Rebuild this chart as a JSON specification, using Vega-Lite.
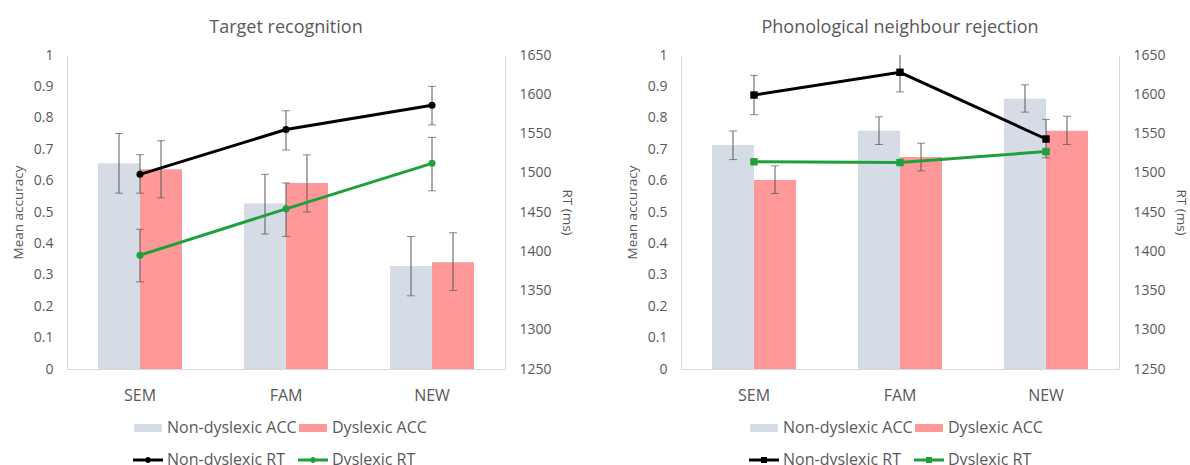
{
  "$schema": "https://vega.github.io/schema/vega-lite/v6.json",
  "padding": {"left": 11, "top": 19, "right": 0, "bottom": 0},
  "background": "white",
  "spacing": 51,
  "datasets": {
    "acc": [
      {"task": "Target recognition", "cond": "SEM", "series": "Non-dyslexic ACC", "acc": 0.655, "lo": 0.56, "hi": 0.75},
      {"task": "Target recognition", "cond": "SEM", "series": "Dyslexic ACC", "acc": 0.636, "lo": 0.545, "hi": 0.727},
      {"task": "Target recognition", "cond": "FAM", "series": "Non-dyslexic ACC", "acc": 0.527, "lo": 0.43, "hi": 0.62},
      {"task": "Target recognition", "cond": "FAM", "series": "Dyslexic ACC", "acc": 0.592, "lo": 0.5, "hi": 0.682},
      {"task": "Target recognition", "cond": "NEW", "series": "Non-dyslexic ACC", "acc": 0.328, "lo": 0.233, "hi": 0.422},
      {"task": "Target recognition", "cond": "NEW", "series": "Dyslexic ACC", "acc": 0.34, "lo": 0.25, "hi": 0.434},
      {"task": "Phonological neighbour rejection", "cond": "SEM", "series": "Non-dyslexic ACC", "acc": 0.713, "lo": 0.667, "hi": 0.758},
      {"task": "Phonological neighbour rejection", "cond": "SEM", "series": "Dyslexic ACC", "acc": 0.602, "lo": 0.559, "hi": 0.647},
      {"task": "Phonological neighbour rejection", "cond": "FAM", "series": "Non-dyslexic ACC", "acc": 0.759, "lo": 0.715, "hi": 0.803},
      {"task": "Phonological neighbour rejection", "cond": "FAM", "series": "Dyslexic ACC", "acc": 0.675, "lo": 0.631, "hi": 0.719},
      {"task": "Phonological neighbour rejection", "cond": "NEW", "series": "Non-dyslexic ACC", "acc": 0.861, "lo": 0.818, "hi": 0.905},
      {"task": "Phonological neighbour rejection", "cond": "NEW", "series": "Dyslexic ACC", "acc": 0.759, "lo": 0.715, "hi": 0.805}
    ],
    "rt": [
      {"task": "Target recognition", "cond": "SEM", "series": "Non-dyslexic RT", "rt": 1498, "lo": 1474, "hi": 1523},
      {"task": "Target recognition", "cond": "FAM", "series": "Non-dyslexic RT", "rt": 1555, "lo": 1529, "hi": 1579},
      {"task": "Target recognition", "cond": "NEW", "series": "Non-dyslexic RT", "rt": 1586, "lo": 1561, "hi": 1610},
      {"task": "Target recognition", "cond": "SEM", "series": "Dyslexic RT", "rt": 1395, "lo": 1361, "hi": 1428},
      {"task": "Target recognition", "cond": "FAM", "series": "Dyslexic RT", "rt": 1454, "lo": 1419, "hi": 1487},
      {"task": "Target recognition", "cond": "NEW", "series": "Dyslexic RT", "rt": 1512, "lo": 1477, "hi": 1545},
      {"task": "Phonological neighbour rejection", "cond": "SEM", "series": "Non-dyslexic RT", "rt": 1599, "lo": 1574, "hi": 1624},
      {"task": "Phonological neighbour rejection", "cond": "FAM", "series": "Non-dyslexic RT", "rt": 1628, "lo": 1603, "hi": 1653},
      {"task": "Phonological neighbour rejection", "cond": "NEW", "series": "Non-dyslexic RT", "rt": 1543, "lo": 1519, "hi": 1568},
      {"task": "Phonological neighbour rejection", "cond": "SEM", "series": "Dyslexic RT", "rt": 1514},
      {"task": "Phonological neighbour rejection", "cond": "FAM", "series": "Dyslexic RT", "rt": 1513},
      {"task": "Phonological neighbour rejection", "cond": "NEW", "series": "Dyslexic RT", "rt": 1527}
    ]
  },
  "hconcat": [
    {
      "width": 438,
      "height": 314,
      "title": {"text": "Target recognition", "frame": "group", "anchor": "middle"},
      "encoding": {
        "x": {"field": "cond", "type": "nominal", "sort": ["SEM", "FAM", "NEW"], "title": null,
              "scale": {"paddingInner": 0, "paddingOuter": 0}}
      },
      "layer": [
        {
          "data": {"name": "acc"},
          "transform": [{"filter": "datum.task === 'Target recognition'"}],
          "encoding": {
            "xOffset": {"field": "series", "type": "nominal", "scale": {"domain": ["Non-dyslexic ACC", "Dyslexic ACC"], "paddingInner": 0, "paddingOuter": 0.738}}
          },
          "layer": [
            {
              "mark": {"type": "bar"},
              "encoding": {
                "y": {"field": "acc", "type": "quantitative", "title": "Mean accuracy",
                      "scale": {"domain": [0, 1], "nice": false},
                      "axis": {"orient": "left", "values": [0, 0.1, 0.2, 0.3, 0.4, 0.5, 0.6, 0.7, 0.8, 0.9, 1], "tickCount": 20, "format": ".1~f"}},
                "fill": {"field": "series", "type": "nominal", "title": null,
                         "scale": {"domain": ["Non-dyslexic ACC", "Non-dyslexic RT", "Dyslexic ACC", "Dyslexic RT"], "range": ["#d6dce5", "#000000", "#ff9999", "#1fa03c"]},
                         "legend": {"orient": "none", "legendX": 66, "legendY": 358, "columns": 2, "symbolSize": 900, "symbolStrokeWidth": 0, "labelFontSize": 16, "labelColor": "#595959", "labelOffset": 4, "rowPadding": 9, "columnPadding": 1}}
              }
            },
            {
              "mark": {"type": "rule", "color": "#595959", "strokeWidth": 1},
              "encoding": {
                "y": {"field": "lo", "type": "quantitative", "title": "Mean accuracy",
                      "axis": {"orient": "left", "values": [0, 0.1, 0.2, 0.3, 0.4, 0.5, 0.6, 0.7, 0.8, 0.9, 1], "tickCount": 20, "format": ".1~f"}},
                "y2": {"field": "hi"}
              }
            },
            {
              "mark": {"type": "tick", "color": "#595959", "thickness": 1, "size": 8},
              "encoding": {"y": {"field": "lo", "type": "quantitative", "title": "Mean accuracy",
                      "axis": {"orient": "left", "values": [0, 0.1, 0.2, 0.3, 0.4, 0.5, 0.6, 0.7, 0.8, 0.9, 1], "tickCount": 20, "format": ".1~f"}}}
            },
            {
              "mark": {"type": "tick", "color": "#595959", "thickness": 1, "size": 8},
              "encoding": {"y": {"field": "hi", "type": "quantitative", "title": "Mean accuracy",
                      "axis": {"orient": "left", "values": [0, 0.1, 0.2, 0.3, 0.4, 0.5, 0.6, 0.7, 0.8, 0.9, 1], "tickCount": 20, "format": ".1~f"}}}
            }
          ]
        },
        {
          "data": {"name": "rt"},
          "transform": [{"filter": "datum.task === 'Target recognition'"}],
          "layer": [
            {
              "mark": {"type": "line", "strokeWidth": 3},
              "encoding": {
                "y": {"field": "rt", "type": "quantitative", "title": "RT (ms)",
                      "scale": {"domain": [1250, 1650], "nice": false, "zero": false},
                      "axis": {"orient": "right", "values": [1250, 1300, 1350, 1400, 1450, 1500, 1550, 1600, 1650], "tickCount": 20, "format": "d"}},
                "stroke": {"field": "series", "type": "nominal", "legend": null,
                           "scale": {"domain": ["Non-dyslexic ACC", "Non-dyslexic RT", "Dyslexic ACC", "Dyslexic RT"], "range": ["#d6dce5", "#000000", "#ff9999", "#1fa03c"]}}
              }
            },
            {
              "mark": {"type": "rule", "color": "#595959", "strokeWidth": 1},
              "encoding": {
                "y": {"field": "lo", "type": "quantitative", "title": "RT (ms)",
                      "axis": {"orient": "right", "values": [1250, 1300, 1350, 1400, 1450, 1500, 1550, 1600, 1650], "tickCount": 20, "format": "d"}},
                "y2": {"field": "hi"}
              }
            },
            {
              "mark": {"type": "tick", "color": "#595959", "thickness": 1, "size": 8},
              "encoding": {"y": {"field": "lo", "type": "quantitative", "title": "RT (ms)",
                      "axis": {"orient": "right", "values": [1250, 1300, 1350, 1400, 1450, 1500, 1550, 1600, 1650], "tickCount": 20, "format": "d"}}}
            },
            {
              "mark": {"type": "tick", "color": "#595959", "thickness": 1, "size": 8},
              "encoding": {"y": {"field": "hi", "type": "quantitative", "title": "RT (ms)",
                      "axis": {"orient": "right", "values": [1250, 1300, 1350, 1400, 1450, 1500, 1550, 1600, 1650], "tickCount": 20, "format": "d"}}}
            },
            {
              "mark": {"type": "point", "filled": true, "shape": "circle", "size": 50, "opacity": 1},
              "encoding": {
                "y": {"field": "rt", "type": "quantitative", "title": "RT (ms)",
                      "axis": {"orient": "right", "values": [1250, 1300, 1350, 1400, 1450, 1500, 1550, 1600, 1650], "tickCount": 20, "format": "d"}},
                "fill": {"field": "series", "type": "nominal", "title": null}
              }
            },
            {
              "transform": [{"filter": "false"}],
              "mark": {"type": "point", "filled": true, "opacity": 1},
              "encoding": {
                "fill": {"field": "series", "type": "nominal", "title": null},
                "shape": {"field": "series", "type": "nominal", "title": null,
                          "scale": {"domain": ["Non-dyslexic ACC", "Non-dyslexic RT", "Dyslexic ACC", "Dyslexic RT"],
                                    "range": ["M-0.93,-0.27H0.93V0.27H-0.93Z",
                                              "M-1,-0.1H1V0.1H-1Z M0.2,0A0.2,0.2,0,1,1,-0.2,0A0.2,0.2,0,1,1,0.2,0Z",
                                              "M-0.93,-0.27H0.93V0.27H-0.93Z",
                                              "M-1,-0.1H1V0.1H-1Z M0.2,0A0.2,0.2,0,1,1,-0.2,0A0.2,0.2,0,1,1,0.2,0Z"]},
                          "legend": {"orient": "none", "legendX": 66, "legendY": 358, "columns": 2, "symbolSize": 900, "symbolStrokeWidth": 0, "labelFontSize": 16, "labelColor": "#595959", "labelOffset": 4, "rowPadding": 9, "columnPadding": 1}}
              }
            }
          ]
        }
      ],
      "resolve": {"scale": {"y": "independent"}}
    },
    {
      "width": 438,
      "height": 314,
      "title": {"text": "Phonological neighbour rejection", "frame": "group", "anchor": "middle"},
      "encoding": {
        "x": {"field": "cond", "type": "nominal", "sort": ["SEM", "FAM", "NEW"], "title": null,
              "scale": {"paddingInner": 0, "paddingOuter": 0}}
      },
      "layer": [
        {
          "data": {"name": "acc"},
          "transform": [{"filter": "datum.task === 'Phonological neighbour rejection'"}],
          "encoding": {
            "xOffset": {"field": "series", "type": "nominal", "scale": {"domain": ["Non-dyslexic ACC", "Dyslexic ACC"], "paddingInner": 0, "paddingOuter": 0.738}}
          },
          "layer": [
            {
              "mark": {"type": "bar"},
              "encoding": {
                "y": {"field": "acc", "type": "quantitative", "title": "Mean accuracy",
                      "scale": {"domain": [0, 1], "nice": false},
                      "axis": {"orient": "left", "values": [0, 0.1, 0.2, 0.3, 0.4, 0.5, 0.6, 0.7, 0.8, 0.9, 1], "tickCount": 20, "format": ".1~f"}},
                "fill": {"field": "series", "type": "nominal", "title": null,
                         "scale": {"domain": ["Non-dyslexic ACC", "Non-dyslexic RT", "Dyslexic ACC", "Dyslexic RT"], "range": ["#d6dce5", "#000000", "#ff9999", "#1fa03c"]},
                         "legend": {"orient": "none", "legendX": 68, "legendY": 358, "columns": 2, "symbolSize": 900, "symbolStrokeWidth": 0, "labelFontSize": 16, "labelColor": "#595959", "labelOffset": 4, "rowPadding": 9, "columnPadding": 1}}
              }
            },
            {
              "mark": {"type": "rule", "color": "#595959", "strokeWidth": 1},
              "encoding": {
                "y": {"field": "lo", "type": "quantitative", "title": "Mean accuracy",
                      "axis": {"orient": "left", "values": [0, 0.1, 0.2, 0.3, 0.4, 0.5, 0.6, 0.7, 0.8, 0.9, 1], "tickCount": 20, "format": ".1~f"}},
                "y2": {"field": "hi"}
              }
            },
            {
              "mark": {"type": "tick", "color": "#595959", "thickness": 1, "size": 8},
              "encoding": {"y": {"field": "lo", "type": "quantitative", "title": "Mean accuracy",
                      "axis": {"orient": "left", "values": [0, 0.1, 0.2, 0.3, 0.4, 0.5, 0.6, 0.7, 0.8, 0.9, 1], "tickCount": 20, "format": ".1~f"}}}
            },
            {
              "mark": {"type": "tick", "color": "#595959", "thickness": 1, "size": 8},
              "encoding": {"y": {"field": "hi", "type": "quantitative", "title": "Mean accuracy",
                      "axis": {"orient": "left", "values": [0, 0.1, 0.2, 0.3, 0.4, 0.5, 0.6, 0.7, 0.8, 0.9, 1], "tickCount": 20, "format": ".1~f"}}}
            }
          ]
        },
        {
          "data": {"name": "rt"},
          "transform": [{"filter": "datum.task === 'Phonological neighbour rejection'"}],
          "layer": [
            {
              "mark": {"type": "line", "strokeWidth": 3},
              "encoding": {
                "y": {"field": "rt", "type": "quantitative", "title": "RT (ms)",
                      "scale": {"domain": [1250, 1650], "nice": false, "zero": false},
                      "axis": {"orient": "right", "values": [1250, 1300, 1350, 1400, 1450, 1500, 1550, 1600, 1650], "tickCount": 20, "format": "d"}},
                "stroke": {"field": "series", "type": "nominal", "legend": null,
                           "scale": {"domain": ["Non-dyslexic ACC", "Non-dyslexic RT", "Dyslexic ACC", "Dyslexic RT"], "range": ["#d6dce5", "#000000", "#ff9999", "#1fa03c"]}}
              }
            },
            {
              "mark": {"type": "rule", "color": "#595959", "strokeWidth": 1, "clip": true},
              "encoding": {
                "y": {"field": "lo", "type": "quantitative", "title": "RT (ms)",
                      "axis": {"orient": "right", "values": [1250, 1300, 1350, 1400, 1450, 1500, 1550, 1600, 1650], "tickCount": 20, "format": "d"}},
                "y2": {"field": "hi"}
              }
            },
            {
              "mark": {"type": "tick", "color": "#595959", "thickness": 1, "size": 8, "clip": true},
              "encoding": {"y": {"field": "lo", "type": "quantitative", "title": "RT (ms)",
                      "axis": {"orient": "right", "values": [1250, 1300, 1350, 1400, 1450, 1500, 1550, 1600, 1650], "tickCount": 20, "format": "d"}}}
            },
            {
              "mark": {"type": "tick", "color": "#595959", "thickness": 1, "size": 8, "clip": true},
              "encoding": {"y": {"field": "hi", "type": "quantitative", "title": "RT (ms)",
                      "axis": {"orient": "right", "values": [1250, 1300, 1350, 1400, 1450, 1500, 1550, 1600, 1650], "tickCount": 20, "format": "d"}}}
            },
            {
              "mark": {"type": "point", "filled": true, "shape": "square", "size": 55, "opacity": 1},
              "encoding": {
                "y": {"field": "rt", "type": "quantitative", "title": "RT (ms)",
                      "axis": {"orient": "right", "values": [1250, 1300, 1350, 1400, 1450, 1500, 1550, 1600, 1650], "tickCount": 20, "format": "d"}},
                "fill": {"field": "series", "type": "nominal", "title": null}
              }
            },
            {
              "transform": [{"filter": "false"}],
              "mark": {"type": "point", "filled": true, "opacity": 1},
              "encoding": {
                "fill": {"field": "series", "type": "nominal", "title": null},
                "shape": {"field": "series", "type": "nominal", "title": null,
                          "scale": {"domain": ["Non-dyslexic ACC", "Non-dyslexic RT", "Dyslexic ACC", "Dyslexic RT"],
                                    "range": ["M-0.93,-0.27H0.93V0.27H-0.93Z",
                                              "M-1,-0.1H1V0.1H-1Z M-0.2,-0.2H0.2V0.2H-0.2Z",
                                              "M-0.93,-0.27H0.93V0.27H-0.93Z",
                                              "M-1,-0.1H1V0.1H-1Z M-0.2,-0.2H0.2V0.2H-0.2Z"]},
                          "legend": {"orient": "none", "legendX": 68, "legendY": 358, "columns": 2, "symbolSize": 900, "symbolStrokeWidth": 0, "labelFontSize": 16, "labelColor": "#595959", "labelOffset": 4, "rowPadding": 9, "columnPadding": 1}}
              }
            }
          ]
        }
      ],
      "resolve": {"scale": {"y": "independent"}}
    }
  ],
  "resolve": {
    "scale": {"fill": "independent", "shape": "independent", "stroke": "independent"},
    "legend": {"fill": "independent", "shape": "independent", "stroke": "independent"}
  },
  "config": {
    "font": "Open Sans",
    "view": {"stroke": null},
    "title": {"fontSize": 18, "fontWeight": "normal", "color": "#595959", "offset": 11},
    "axis": {
      "domainColor": "#d9d9d9",
      "domainWidth": 1,
      "ticks": false,
      "grid": false,
      "labelColor": "#595959",
      "labelFontSize": 14,
      "labelPadding": 14,
      "labelOverlap": false,
      "labelBound": false,
      "titleColor": "#595959",
      "titleFontSize": 13.5,
      "titleFontWeight": "normal",
      "titlePadding": 8
    },
    "axisX": {"labelFontSize": 16, "labelAngle": 0, "labelPadding": 18}
  }
}
